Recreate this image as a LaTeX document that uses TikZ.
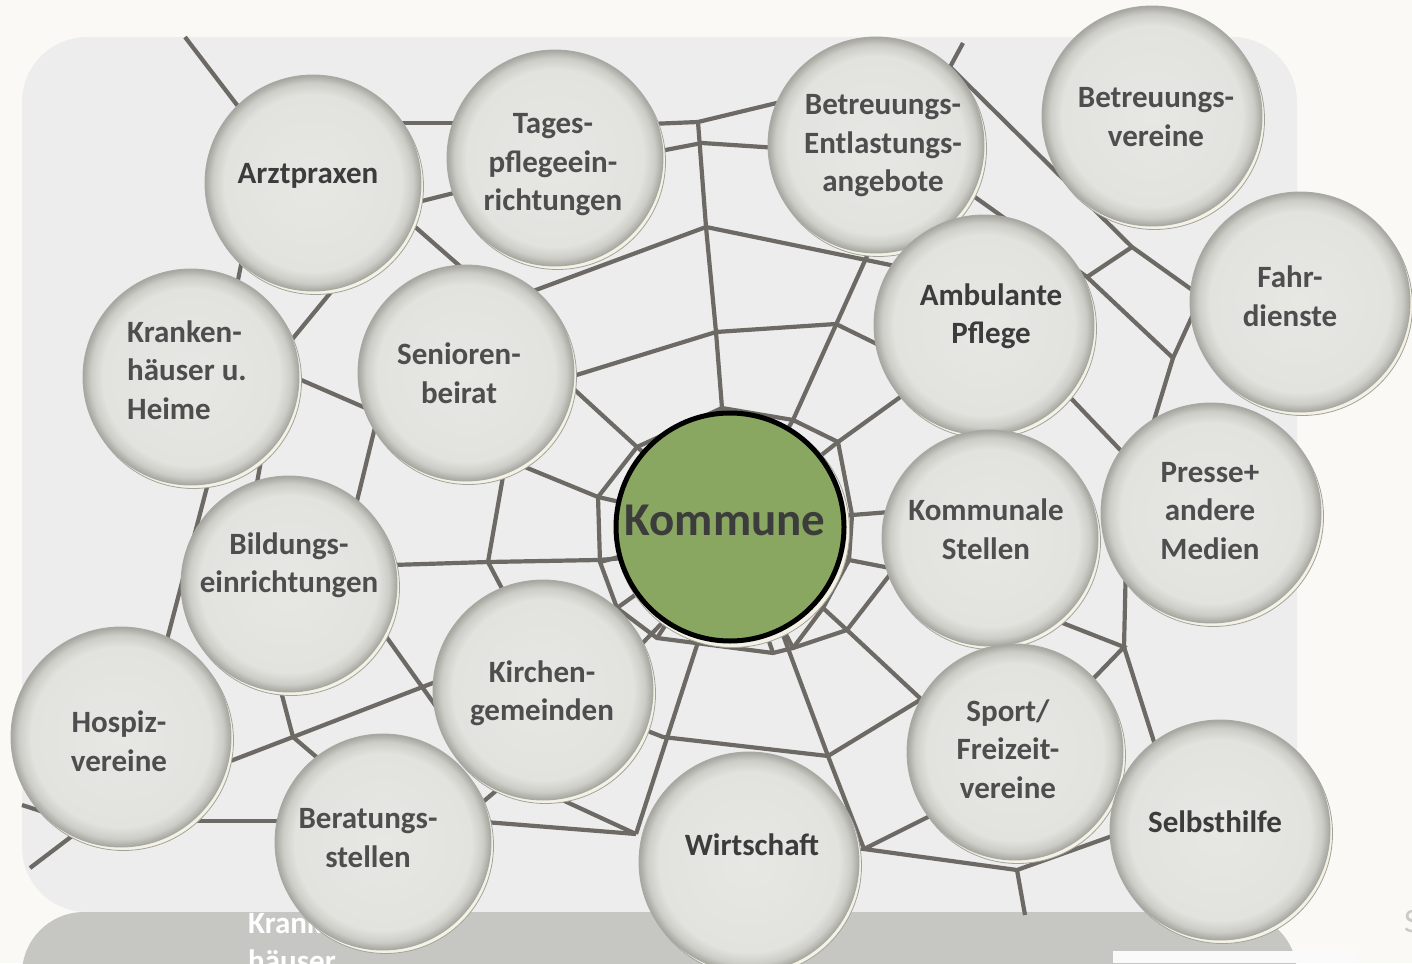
\documentclass[tikz,border=0pt]{standalone}
\usepackage{fontspec}
\setmainfont{Carlito}
\definecolor{bgc}{HTML}{FAF9F5}
\definecolor{panelc}{HTML}{EDEDED}
\definecolor{reflc}{HTML}{C6C6C3}
\definecolor{webc}{HTML}{6D6A65}
\definecolor{bubin}{HTML}{E7E7E4}
\definecolor{bubintwo}{HTML}{E2E2DE}
\definecolor{bubmid}{HTML}{CDCDC8}
\definecolor{bubout}{HTML}{A6A6A1}
\definecolor{bubline}{HTML}{A9A9A4}
\definecolor{creamc}{HTML}{F4F2E4}
\definecolor{creamline}{HTML}{A3A39E}
\definecolor{txtc}{HTML}{4E4E4E}
\definecolor{txtdark}{HTML}{3C3C3C}
\definecolor{kgreen}{HTML}{8AA761}
\definecolor{sgray}{HTML}{CACAC7}
\pgfdeclareradialshading{bub}{\pgfpointorigin}{color(0bp)=(bubin);color(20.5bp)=(bubintwo);color(23.2bp)=(bubmid);color(25bp)=(bubout);color(50bp)=(bubout)}
\newcommand{\bubb}[4]{%
  \fill[creamc,draw=creamline,line width=0.8pt] (#2+2.5,#3+3.5) circle[radius=#4];
  \node[bubble,minimum size=2*#4] (#1) at (#2,#3) {};}
\begin{document}
\begin{tikzpicture}[x=1pt,y=-1pt,
  web/.style={draw=webc,line width=4.2pt},
  bubble/.style={circle,inner sep=0pt,shading=bub,draw=bubline,line width=0.9pt},
  lbl/.style={font=\fontsize{31}{38.5}\selectfont\bfseries,text=txtc,align=center,inner sep=0pt},
  lbldark/.style={lbl,text=txtdark}]
\useasboundingbox (0,0) rectangle (1412,963);
\fill[bgc] (0,0) rectangle (1412,963);
\fill[panelc,rounded corners=65pt] (22,37) rectangle (1297,912);
\fill[reflc,rounded corners=62pt] (22,912) rectangle (1297,1060);
\fill[white!96!gray] (1113,951) rectangle (1357,963);
\node[font=\fontsize{34}{34}\selectfont,text=sgray,anchor=base west,inner sep=0pt] (sglyph) at (1404,932) {S};
\node[lbl,text=white,anchor=base west] (refla) at (248,933) {Kranken-};
\node[lbl,text=white,anchor=base west] (reflb) at (248,971) {häuser};

% ---------- web ----------
\coordinate (kc) at (730,527);
% junctions
\coordinate (jN1) at (698,122);
\coordinate (jN2) at (702,143);
\coordinate (jN3) at (706,227);
\coordinate (jN4) at (716,332);
\coordinate (jW1) at (488,562);
\coordinate (jW2) at (598,560);
\coordinate (jL1) at (293,737);
\coordinate (jB1) at (636,834);
\coordinate (jB2) at (663,737);
\coordinate (jB3) at (828,756);
\coordinate (jB4) at (864,849);
\coordinate (jB5) at (1017,870);
\coordinate (jR1) at (1124,647);
\coordinate (jR2) at (1132,247);
\coordinate (jR3) at (1087,277);
\coordinate (jR4) at (1173,358);
\coordinate (jR5) at (950,67);
\coordinate (jS1) at (847,630);
% ring vertices
\coordinate (r1) at (598,497);
\coordinate (r2) at (637,447);
\coordinate (r3) at (722,408);
\coordinate (r4) at (793,420);
\coordinate (r5) at (838,442);
\coordinate (r6) at (852,515);
\coordinate (r7) at (849,560);
\coordinate (r8) at (823,608);
\coordinate (r9) at (793,648);
\coordinate (r10) at (773,653);
\coordinate (r11) at (657,638);
\coordinate (r12) at (617,608);
\coordinate (r13) at (600,562);

\begin{scope}[web]
% top left
\draw (185,37) -- (250,122);
\draw (395,123) -- (465,123);
\draw (410,204) -- (462,191);
\draw (405,218) -- (470,275);
\draw (244,250) -- (235,295);
\draw (285,348) -- (345,275);
\draw (292,376) -- (368,409);
\draw (378,415) -- (356,505);
\draw (262,455) -- (253,505);
\draw (218,445) -- (163,655);
% top middle
\draw (650,124) -- (jN1) -- (785,101);
\draw (655,152) -- (jN2) -- (778,148);
\draw (jN1) -- (jN3) -- (jN4) -- (r3);
\draw (525,294) -- (jN3) -- (905,268);
\draw (570,377) -- (jN4) -- (836,324) -- (885,348);
\draw (r4) -- (872,245);
\draw (r5) -- (910,390);
% left of Kommune
\draw (565,381) -- (r2);
\draw (520,465) -- (r1);
\draw (392,565) -- (jW1) -- (jW2) -- (625,558);
\draw (505,465) -- (jW1) -- (508,600);
% ring around Kommune
\draw (r1) -- (r2) -- (r3) -- (r4) -- (r5) -- (r6) -- (r7) -- (r8) -- (r9) -- (r10) -- (r11) -- (r12) -- (r13) -- cycle;
\foreach \v in {r1,r2,r3,r4,r5,r6,r7,r8,r9,r10,r11,r12,r13} \draw (\v) -- (kc);
\draw (r9) -- (jS1) -- (895,568);
% spokes outward
\draw (r6) -- (890,512);
\draw (r7) -- (890,568);
\draw (r8) -- (jS1) -- (922,700);
\draw (783,635) -- (jB3) -- (jB4);
\draw (698,642) -- (jB1);
\draw (628,658) -- (665,620);
% lower
\draw (640,728) -- (jB2) -- (jB3) -- (920,700);
\draw (485,822) -- (jB1);
\draw (545,792) -- (jB1);
\draw (932,815) -- (jB4) -- (jB5) -- (1115,835);
\draw (jB5) -- (1025,915);
\draw (1055,620) -- (jR1) -- (1092,680);
\draw (1126,560) -- (jR1) -- (1155,745);
% left bottom
\draw (22,805) -- (50,814);
\draw (30,868) -- (80,830);
\draw (220,765) -- (jL1) -- (438,681);
\draw (278,680) -- (jL1) -- (320,760);
\draw (185,821) -- (290,821);
\draw (385,635) -- (440,712);
\draw (478,806) -- (503,785);
% upper right
\draw (jR5) -- (963,43);
\draw (jR5) -- (jR2) -- (1195,292);
\draw (jR3) -- (jR2);
\draw (965,190) -- (jR3) -- (jR4);
\draw (1195,310) -- (jR4) -- (1148,440);
\draw (1065,392) -- (1125,455);
\end{scope}

% ---------- circles ----------
\bubb{arzt}{313}{183}{108}
\bubb{tages}{555}{158}{108}
\bubb{betent}{876}{145}{108}
\bubb{betver}{1152}{116}{110}
\bubb{amb}{984}{325}{110}
\bubb{fahr}{1300}{302}{110}
\bubb{kranken}{191}{377}{108}
\bubb{senioren}{466}{373}{108}
\bubb{kommunale}{990}{538}{108}
\bubb{presse}{1211}{513}{110}
\bubb{bildung}{289}{584}{108}
\bubb{kirchen}{543}{690}{110}
\bubb{hospiz}{121}{737}{110}
\bubb{berat}{383}{842}{108}
\bubb{wirt}{749}{862}{110}
\bubb{sport}{1015}{752}{108}
\bubb{selbst}{1220}{830}{110}
% Kommune
\fill[creamc,draw=creamline,line width=0.8pt] (732.5,530.5) circle[radius=117];
\node[circle,inner sep=0pt,minimum size=228pt,fill=kgreen,draw=black,line width=5pt] (kommune) at (730,527) {};

% ---------- labels ----------
\node[lbldark] (arzt-t) at (308,176) {Arztpraxen};
\node[lbl] (tages-t) at (553,165) {Tages-\\pflegeein-\\richtungen};
\node[lbl] (betent-t) at (883,146) {Betreuungs-\\Entlastungs-\\angebote};
\node[lbl] (betver-t) at (1156,117) {Betreuungs-\\vereine};
\node[lbl] (fahr-t) at (1290,296) {Fahr-\\dienste};
\node[lbldark] (amb-t) at (991,316) {Ambulante\\Pflege};
\node[lbl,align=left,anchor=west] (kranken-t) at (127,370) {Kranken-\\häuser u.\\Heime};
\node[lbl] (senioren-t) at (459,373) {Senioren-\\beirat};
\node[lbldark,font=\fontsize{47}{50}\selectfont\bfseries] (kommune-t) at (725,520) {Kommune};
\node[lbl] (kommunale-t) at (986,529) {Kommunale\\Stellen};
\node[lbl] (presse-t) at (1210,511) {Presse+\\andere\\Medien};
\node[lbl] (bildung-t) at (289,565) {Bildungs-\\einrichtungen};
\node[lbl] (kirchen-t) at (542,693) {Kirchen-\\gemeinden};
\node[lbl] (hospiz-t) at (119,741) {Hospiz-\\vereine};
\node[lbl] (berat-t) at (368,838) {Beratungs-\\stellen};
\node[lbldark] (wirt-t) at (752,845) {Wirtschaft};
\node[lbl] (sport-t) at (1008,749) {Sport/\\Freizeit-\\vereine};
\node[lbldark] (selbst-t) at (1215,822) {Selbsthilfe};
\end{tikzpicture}
\end{document}
